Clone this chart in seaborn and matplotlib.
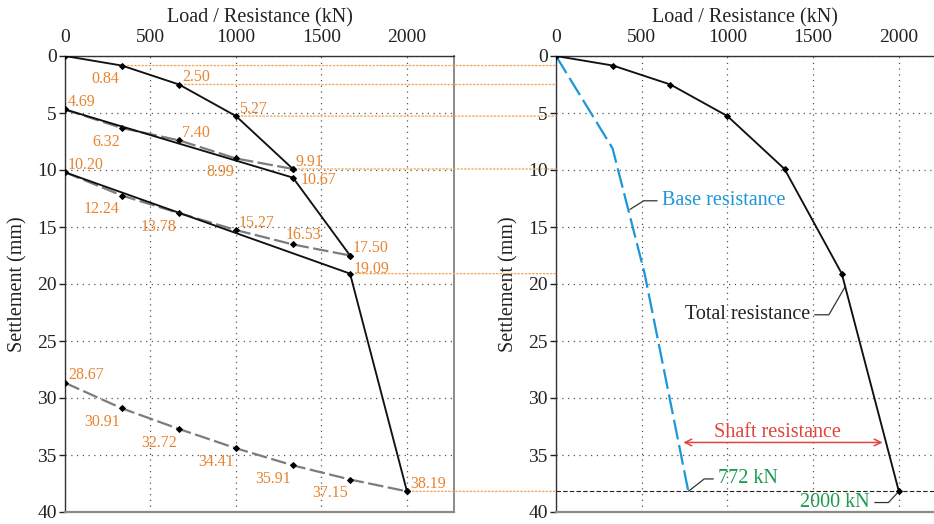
import matplotlib
matplotlib.use("Agg")
import matplotlib.pyplot as plt
from matplotlib.patches import ConnectionPatch
import seaborn as sns
import pandas as pd

# ---------------- data ----------------
loads = [0, 333, 667, 1000, 1333, 1667, 2000]

# left panel: black solid curves
load_a = [0, 333, 667, 1000, 1333]
settle_a = [0, 0.84, 2.50, 5.27, 9.91]
load_b = [0, 1333, 1667]
settle_b = [4.69, 10.67, 17.50]
load_c = [0, 1667, 2000]
settle_c = [10.20, 19.09, 38.19]

# left panel: grey dashed curves
load_d = [0, 333, 667, 1000, 1333]
settle_d = [4.69, 6.32, 7.40, 8.99, 9.91]
load_e = [0, 333, 667, 1000, 1333, 1667]
settle_e = [10.20, 12.24, 13.78, 15.27, 16.53, 17.50]
load_f = [0, 333, 667, 1000, 1333, 1667, 2000]
settle_f = [28.67, 30.91, 32.72, 34.41, 35.91, 37.15, 38.19]

# right panel
total_load = [0, 333, 667, 1000, 1333, 1667, 2000]
total_settle = [0, 0.84, 2.50, 5.27, 9.91, 19.09, 38.19]
base_load = [0, 330, 517, 772]
base_settle = [0, 8.1, 19.09, 38.19]

# orange value labels (left panel)
lab_load = [333, 667, 1000, 1333, 0, 333, 667, 1000, 1333,
            0, 333, 667, 1000, 1333, 1667, 1667,
            0, 333, 667, 1000, 1333, 1667, 2000]
lab_settle = [0.84, 2.50, 5.27, 9.91, 4.69, 6.32, 7.40, 8.99, 10.67,
              10.20, 12.24, 13.78, 15.27, 16.53, 17.50, 19.09,
              28.67, 30.91, 32.72, 34.41, 35.91, 37.15, 38.19]
lab_text = ["0.84", "2.50", "5.27", "9.91", "4.69", "6.32", "7.40", "8.99", "10.67",
            "10.20", "12.24", "13.78", "15.27", "16.53", "17.50", "19.09",
            "28.67", "30.91", "32.72", "34.41", "35.91", "37.15", "38.19"]
lab_place = ["bl", "ra", "ra", "ra", "ra", "bl", "ra", "bl", "rc",
             "ra", "bl", "bl", "ra", "ab", "ra", "rl",
             "ra", "bl", "bl", "bl", "bl", "bl", "ra"]

# guide lines from the loading points to the right panel
guide_load = [333, 667, 1000, 1333, 1667, 2000]
guide_settle = [0.84, 2.50, 5.27, 9.91, 19.09, 38.19]

x_ticks = [0, 500, 1000, 1500, 2000]
y_ticks = [0, 5, 10, 15, 20, 25, 30, 35, 40]

# annotation values (right panel)
base_ann_xy = (432, 13.45)
base_ann_text = (617, 12.7)
total_ann_xy = (1686, 20.25)
total_ann_text = (1482, 22.7)
shaft_text = (1291, 33.0)
shaft_from, shaft_to, shaft_y = 743, 1905, 33.9
base_val_text = (945, 37.1)
total_val_text = (1832, 39.17)
final_settle = 38.19
base_final = 772
total_final = 2000

# ---------------- style ----------------
sns.set_style("white")
plt.rcParams["font.family"] = ["Liberation Serif", "DejaVu Serif"]
plt.rcParams["axes.linewidth"] = 1.0

ORANGE = "#E8832E"
ORANGE_L = "#F3A864"
BLUE = "#1B96D8"
GREEN = "#1E9A50"
RED = "#E0443C"
GREY = "#7C7C7C"

fig = plt.figure(figsize=(9.34, 5.24), dpi=100)
ax1 = fig.add_axes([65 / 934, 12 / 524, 389 / 934, 456 / 524])
ax2 = fig.add_axes([556 / 934, 12 / 524, 378 / 934, 456 / 524])


def draw(ax, x, y, color, ls, lw, z=3):
    df = pd.DataFrame({"load": x, "settlement": y})
    sns.lineplot(data=df, x="load", y="settlement", ax=ax, sort=False,
                 estimator=None, color=color, linestyle=ls, lw=lw,
                 marker="D", markersize=3.0, markerfacecolor="k",
                 markeredgecolor="k", zorder=z)


for ax, xmax in ((ax1, 2275), (ax2, 2205)):
    ax.set_xlim(0, xmax)
    ax.set_ylim(40, 0)
    ax.set_xticks(x_ticks)
    ax.set_yticks(y_ticks)
    ax.xaxis.tick_top()
    ax.xaxis.set_label_position("top")
    ax.tick_params(axis="x", length=0, pad=7, labelsize=14, colors="#222")
    ax.tick_params(axis="y", length=4, width=1, pad=2, labelsize=14,
                   colors="#222", left=True, direction="out")
    ax.grid(True, color="#555", linestyle=(0, (1, 3.6)), lw=0.9)
    ax.set_axisbelow(True)
    for s in ("top", "left"):
        ax.spines[s].set_color("#333")
        ax.spines[s].set_linewidth(1.0)
    ax.spines["bottom"].set_color("#8a8a8a")
    ax.spines["bottom"].set_linewidth(1.6)
    ax.spines["right"].set_color("#8a8a8a")
    ax.spines["right"].set_linewidth(1.4)

ax2.spines["right"].set_visible(False)

# left panel curves
dash_grey = (0, (7, 2))
draw(ax1, load_d, settle_d, GREY, dash_grey, 1.6)
draw(ax1, load_e, settle_e, GREY, dash_grey, 1.6)
draw(ax1, load_f, settle_f, GREY, dash_grey, 1.6)
draw(ax1, load_a, settle_a, "#111", "-", 1.35, 4)
draw(ax1, load_b, settle_b, "#111", "-", 1.35, 4)
draw(ax1, load_c, settle_c, "#111", "-", 1.35, 4)

offsets = {
    "ra": ((2.2, 2.5), "left", "baseline"),
    "rl": ((2.8, 0.8), "left", "baseline"),
    "rc": ((5.8, -4.3), "left", "baseline"),
    "ab": ((-5.0, 3.6), "left", "baseline"),
    "bl": ((-1.6, -4.0), "right", "top"),
}
for x, y, t, p in zip(lab_load, lab_settle, lab_text, lab_place):
    off, ha, va = offsets[p]
    ax1.annotate(t, xy=(x, y), xytext=off, textcoords="offset points",
                 ha=ha, va=va, fontsize=11.5, color=ORANGE, zorder=6,
                 annotation_clip=False)

# right panel curves
dfb = pd.DataFrame({"load": base_load, "settlement": base_settle})
sns.lineplot(data=dfb, x="load", y="settlement", ax=ax2, sort=False,
             estimator=None, color=BLUE, linestyle=(0, (9, 2.6)), lw=1.6,
             zorder=3)
draw(ax2, total_load, total_settle, "#111", "-", 1.35, 4)
ax2.axhline(final_settle, color="#222", linestyle=(0, (4, 2)), lw=0.8, zorder=2)

for ax in (ax1, ax2):
    ax.set_xlabel("Load / Resistance (kN)", fontsize=14.5, labelpad=5, color="#222")
    ax.set_ylabel("Settlement (mm)", fontsize=14.5, labelpad=7, color="#222")

# dotted orange guides from the left panel to the right panel
for x, y in zip(guide_load, guide_settle):
    con = ConnectionPatch(xyA=(x, y), coordsA=ax1.transData,
                          xyB=(0, y), coordsB=ax2.transData,
                          color=ORANGE_L, lw=1.0, linestyle=(0, (1, 1.6)),
                          shrinkA=4, shrinkB=0, zorder=1)
    fig.add_artist(con)

lead = dict(arrowstyle="-", color="#333", lw=0.9, shrinkA=1, shrinkB=0)
ax2.annotate("Base resistance", xy=base_ann_xy, xytext=base_ann_text,
             ha="left", va="center", fontsize=14.5, color=BLUE,
             arrowprops=dict(lead, connectionstyle="angle,angleA=0,angleB=32",
                             relpos=(0, 0.5)))
ax2.annotate("Total resistance", xy=total_ann_xy, xytext=total_ann_text,
             ha="right", va="center", fontsize=14.5, color="#222",
             arrowprops=dict(lead, connectionstyle="angle,angleA=0,angleB=60",
                             relpos=(1, 0.5)))
ax2.annotate(f"{base_final} kN", xy=(base_final, final_settle), xytext=base_val_text,
             ha="left", va="center", fontsize=14.5, color=GREEN,
             arrowprops=dict(lead, connectionstyle="angle,angleA=0,angleB=38",
                             relpos=(0, 0.5)))
ax2.annotate(f"{total_final} kN", xy=(total_final, final_settle), xytext=total_val_text,
             ha="right", va="center", fontsize=14.5, color=GREEN,
             arrowprops=dict(lead, connectionstyle="angle,angleA=0,angleB=47",
                             relpos=(1, 0.5)), annotation_clip=False)
ax2.annotate("", xy=(shaft_from, shaft_y), xytext=(shaft_to, shaft_y),
             arrowprops=dict(arrowstyle="<->", color=RED, lw=1.1,
                             shrinkA=0, shrinkB=0, mutation_scale=12))
ax2.text(shaft_text[0], shaft_text[1], "Shaft resistance", ha="center",
         va="center", fontsize=14.5, color=RED)

fig.savefig("out.png", dpi=100)
